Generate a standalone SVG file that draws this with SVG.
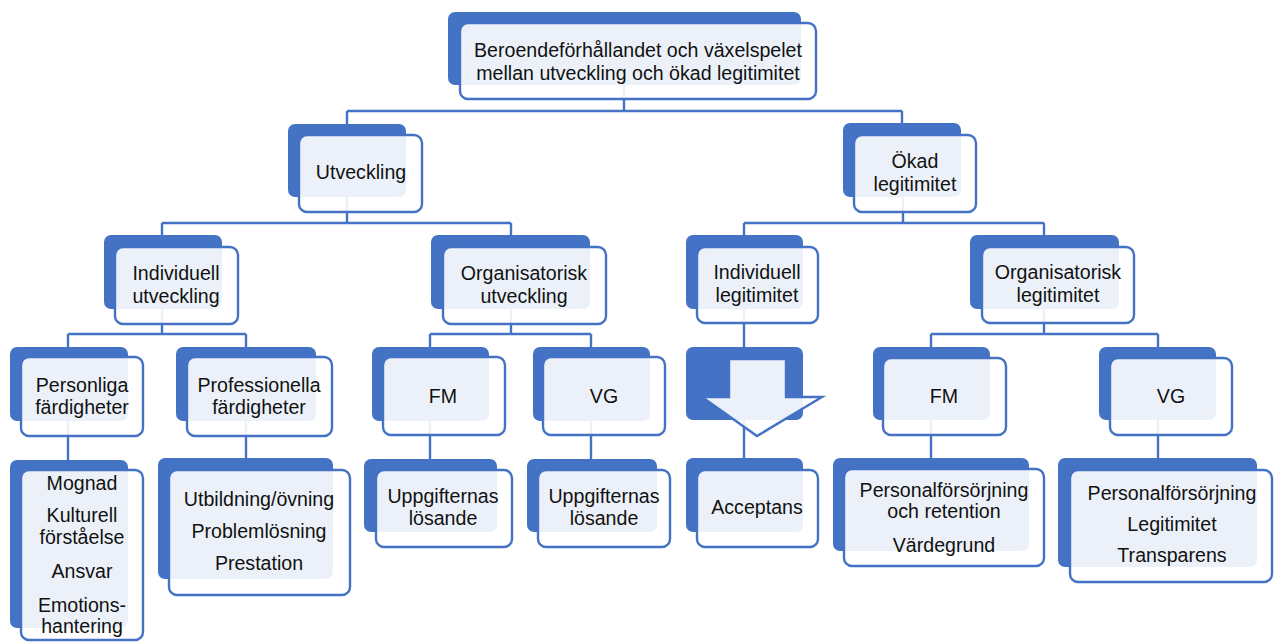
<svg xmlns="http://www.w3.org/2000/svg" width="1276" height="642" viewBox="0 0 1276 642">
<style>
.b{fill:#4472C4}
.f{fill:#fff;fill-opacity:.9;stroke:#4472C4;stroke-width:2.4}
.t{font-family:"Liberation Sans",Arial,sans-serif;font-size:19.6px;fill:#111;text-anchor:middle}
.c{stroke:#4472C4;stroke-width:2.4;fill:none}
</style>
<rect width="1276" height="642" fill="#fff"/>
<g id="connectors" class="c">
<path d="M624 85V111M347 111H902M347 111V124M902 111V123"/>
<path d="M347 197V223M162 223H511M162 223V235M511 223V235"/>
<path d="M903 197V223M744 223H1044M744 223V235M1044 223V235"/>
<path d="M162 309V334M68 334H246M68 334V347M246 334V347"/>
<path d="M511 309V334M430 334H591M430 334V347M591 334V347"/>
<path d="M744 309V347M744 420V458"/>
<path d="M1044 309V334M931 334H1158M931 334V347M1158 334V347"/>
<path d="M68 421V460M246 421V458M430 421V459M591 421V459M931 420V458M1158 420V458"/>
</g>
<g id="n-top"><rect class="b" x="448" y="12" width="353" height="73" rx="7"/><rect class="f" x="460" y="23" width="356" height="76" rx="8"/><text class="t" x="638" y="57">Beroendeförhållandet och växelspelet</text><text class="t" x="638" y="80">mellan utveckling och ökad legitimitet</text></g>
<g id="n-utveckling"><rect class="b" x="288" y="124" width="118" height="73" rx="7"/><rect class="f" x="299" y="135" width="123" height="77" rx="8"/><text class="t" x="361" y="179">Utveckling</text></g>
<g id="n-okad"><rect class="b" x="843" y="123" width="118" height="74" rx="7"/><rect class="f" x="854" y="135" width="122" height="77" rx="8"/><text class="t" x="915" y="168">Ökad</text><text class="t" x="915" y="191">legitimitet</text></g>
<g id="n-ind-utv"><rect class="b" x="104" y="235" width="118" height="74" rx="7"/><rect class="f" x="115" y="247" width="123" height="77" rx="8"/><text class="t" x="176" y="280">Individuell</text><text class="t" x="176" y="303">utveckling</text></g>
<g id="n-org-utv"><rect class="b" x="431" y="235" width="159" height="74" rx="7"/><rect class="f" x="443" y="247" width="163" height="77" rx="8"/><text class="t" x="524" y="280">Organisatorisk</text><text class="t" x="524" y="303">utveckling</text></g>
<g id="n-ind-leg"><rect class="b" x="686" y="235" width="117" height="74" rx="7"/><rect class="f" x="697" y="247" width="121" height="76" rx="8"/><text class="t" x="757" y="279">Individuell</text><text class="t" x="757" y="302">legitimitet</text></g>
<g id="n-org-leg"><rect class="b" x="970" y="235" width="149" height="74" rx="7"/><rect class="f" x="982" y="247" width="152" height="76" rx="8"/><text class="t" x="1058" y="279">Organisatorisk</text><text class="t" x="1058" y="302">legitimitet</text></g>
<g id="n-personliga"><rect class="b" x="10" y="347" width="118" height="74" rx="7"/><rect class="f" x="21" y="357" width="122" height="79" rx="8"/><text class="t" x="82" y="392">Personliga</text><text class="t" x="82" y="414">färdigheter</text></g>
<g id="n-professionella"><rect class="b" x="176" y="347" width="140" height="74" rx="7"/><rect class="f" x="187" y="357" width="145" height="79" rx="8"/><text class="t" x="259" y="392">Professionella</text><text class="t" x="259" y="414">färdigheter</text></g>
<g id="n-fm-l"><rect class="b" x="372" y="347" width="117" height="74" rx="7"/><rect class="f" x="383" y="357" width="122" height="78" rx="8"/><text class="t" x="443" y="403">FM</text></g>
<g id="n-vg-l"><rect class="b" x="533" y="347" width="117" height="74" rx="7"/><rect class="f" x="543" y="357" width="122" height="78" rx="8"/><text class="t" x="604" y="403">VG</text></g>
<g id="n-arrow"><rect class="b" x="686" y="347" width="117" height="73" rx="7"/><polygon class="f" points="729,359 786,359 786,397 822,397 757,436 702,397 729,397"/></g>
<g id="n-fm-r"><rect class="b" x="873" y="347" width="117" height="73" rx="7"/><rect class="f" x="883" y="358" width="123" height="77" rx="8"/><text class="t" x="944" y="403">FM</text></g>
<g id="n-vg-r"><rect class="b" x="1099" y="347" width="117" height="73" rx="7"/><rect class="f" x="1110" y="358" width="122" height="77" rx="8"/><text class="t" x="1171" y="403">VG</text></g>
<g id="n-mognad"><rect class="b" x="10" y="460" width="118" height="168" rx="7"/><rect class="f" x="21" y="470" width="122" height="170" rx="8"/><text class="t" x="82" y="490">Mognad</text><text class="t" x="82" y="522">Kulturell</text><text class="t" x="82" y="544">förståelse</text><text class="t" x="82" y="578">Ansvar</text><text class="t" x="82" y="612">Emotions-</text><text class="t" x="82" y="633">hantering</text></g>
<g id="n-utbildning"><rect class="b" x="158" y="458" width="175" height="121" rx="7"/><rect class="f" x="169" y="470" width="181" height="125" rx="8"/><text class="t" x="259" y="506">Utbildning/övning</text><text class="t" x="259" y="538">Problemlösning</text><text class="t" x="259" y="570">Prestation</text></g>
<g id="n-uppg-l"><rect class="b" x="364" y="459" width="133" height="73" rx="7"/><rect class="f" x="376" y="470" width="136" height="77" rx="8"/><text class="t" x="443" y="503">Uppgifternas</text><text class="t" x="443" y="525">lösande</text></g>
<g id="n-uppg-r"><rect class="b" x="527" y="459" width="130" height="73" rx="7"/><rect class="f" x="538" y="470" width="132" height="77" rx="8"/><text class="t" x="604" y="503">Uppgifternas</text><text class="t" x="604" y="525">lösande</text></g>
<g id="n-acceptans"><rect class="b" x="686" y="458" width="117" height="74" rx="7"/><rect class="f" x="697" y="470" width="121" height="77" rx="8"/><text class="t" x="757" y="514">Acceptans</text></g>
<g id="n-pers-ret"><rect class="b" x="833" y="458" width="196" height="93" rx="7"/><rect class="f" x="844" y="469" width="200" height="97" rx="8"/><text class="t" x="944" y="497">Personalförsörjning</text><text class="t" x="944" y="518">och retention</text><text class="t" x="944" y="552">Värdegrund</text></g>
<g id="n-pers-leg"><rect class="b" x="1058" y="458" width="199" height="109" rx="7"/><rect class="f" x="1070" y="470" width="202" height="112" rx="8"/><text class="t" x="1172" y="500">Personalförsörjning</text><text class="t" x="1172" y="531">Legitimitet</text><text class="t" x="1172" y="562">Transparens</text></g>
</svg>
